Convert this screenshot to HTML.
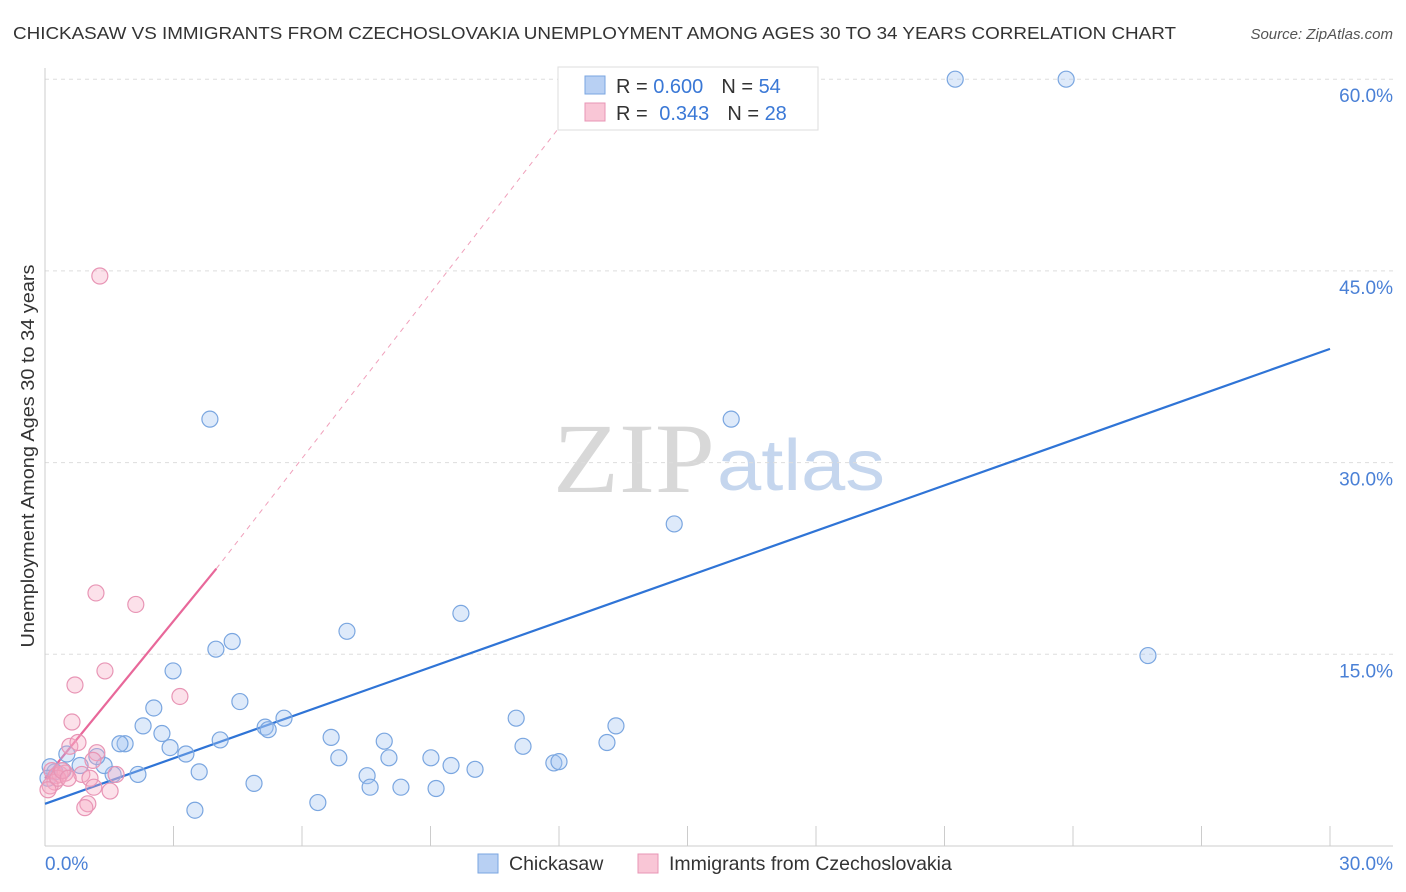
<!DOCTYPE html>
<html><head><meta charset="utf-8"><style>
body{margin:0;background:#fff;}
svg{display:block;font-family:"Liberation Sans",sans-serif;}
</style></head><body>
<svg id="chart" width="1406" height="892">
<text x="13" y="39" font-size="17.5" fill="#333" textLength="1163" lengthAdjust="spacingAndGlyphs">CHICKASAW VS IMMIGRANTS FROM CZECHOSLOVAKIA UNEMPLOYMENT AMONG AGES 30 TO 34 YEARS CORRELATION CHART</text>
<text x="1393" y="39" font-size="15" fill="#555" font-style="italic" text-anchor="end">Source: ZipAtlas.com</text>
<g>
<text x="553" y="492" font-size="100" fill="#d8d8d8" font-family="Liberation Serif,serif" textLength="162" lengthAdjust="spacingAndGlyphs">ZIP</text>
<text x="717" y="490" font-size="72" fill="#c5d6ee" textLength="168" lengthAdjust="spacingAndGlyphs">atlas</text>
</g>
<g id="grid"></g>
<g id="axes"></g>
<g id="lines"></g>
<g id="pts"></g>
<g>
<rect x="558" y="67" width="260" height="63" fill="#fff" stroke="#ddd"/>
<rect x="585" y="76" width="20" height="18" fill="#b8d0f3" stroke="#7aa6e0"/>
<rect x="585" y="103" width="20" height="18" fill="#f9c6d6" stroke="#e895b5"/>
<text x="616" y="93" font-size="20" fill="#333">R = <tspan fill="#3a78d6">0.600</tspan><tspan dx="18">N = </tspan><tspan fill="#3a78d6">54</tspan></text>
<text x="616" y="120" font-size="20" fill="#333">R = <tspan fill="#3a78d6" dx="6">0.343</tspan><tspan dx="18">N = </tspan><tspan fill="#3a78d6">28</tspan></text>
</g>
<g>
<rect x="478" y="854" width="20" height="19" fill="#b8d0f3" stroke="#7aa6e0"/>
<text x="509" y="870" font-size="19.5" fill="#333">Chickasaw</text>
<rect x="638" y="854" width="20" height="19" fill="#f9c6d6" stroke="#e895b5"/>
<text x="669" y="870" font-size="19.5" fill="#333">Immigrants from Czechoslovakia</text>
</g>
<text transform="translate(34,456) rotate(-90)" font-size="18" fill="#333" text-anchor="middle" textLength="383" lengthAdjust="spacingAndGlyphs">Unemployment Among Ages 30 to 34 years</text>
</svg>
<script>
const yTicks=[15,30,45,60];
const xTickCount=10;
const blueX=[3.85,21.25,23.84,16.02,14.69,25.75,9.71,7.05,3.99,4.37,2.99,4.55,2.54,2.29,2.73,1.87,1.75,2.92,3.29,4.09,5.14,5.21,5.58,6.68,6.86,7.92,8.03,7.52,7.59,8.31,9.01,9.13,9.48,10.04,11.0,11.16,11.88,12.0,13.12,13.33,6.37,4.88,3.5,3.6,2.17,1.59,1.38,1.21,0.82,0.51,0.42,0.23,0.12,0.07];
const blueY=[33.4,60.0,60.0,33.4,25.2,14.9,18.2,16.8,15.4,16.0,13.7,11.3,10.8,9.4,8.8,8.0,8.0,7.7,7.2,8.3,9.3,9.1,10.0,8.5,6.9,8.2,6.9,5.5,4.6,4.6,6.9,4.5,6.3,6.0,10.0,7.8,6.5,6.6,8.1,9.4,3.4,4.9,2.8,5.8,5.6,5.6,6.3,7.0,6.3,7.2,5.9,5.8,6.2,5.3];
const pinkX=[1.28,1.19,2.12,1.4,0.7,3.15,0.63,0.58,0.77,1.21,1.12,0.16,0.26,0.35,0.47,0.23,0.12,1.66,0.86,1.05,1.52,1.0,0.93,1.14,0.3,0.4,0.07,0.54];
const pinkY=[44.6,19.8,18.9,13.7,12.6,11.7,9.7,7.8,8.1,7.3,6.7,5.9,5.5,5.6,5.7,5.0,4.7,5.6,5.6,5.3,4.3,3.3,3.0,4.6,5.3,5.9,4.4,5.3];
const blueTrend=[[0,3.3],[30,38.9]];
const pinkTrend=[[0,5.3],[4.0,21.7]];
const pinkDash=[[4.0,21.7],[12.3,57.5]];
const NS="http://www.w3.org/2000/svg";
const X=v=>45+v*42.833, Y=v=>846-v*12.78;
function mk(t,a,p){const e=document.createElementNS(NS,t);for(const k in a)e.setAttribute(k,a[k]);p.appendChild(e);return e;}
const grid=document.getElementById('grid'),axes=document.getElementById('axes'),lines=document.getElementById('lines'),pts=document.getElementById('pts');
yTicks.forEach(t=>{
 const l=mk('line',{x1:45,x2:1393,y1:Y(t),y2:Y(t),stroke:'#ddd','stroke-dasharray':'4,4'},grid);
 
 
 const tx=mk('text',{x:1393,y:Y(t)+23,'font-size':19,fill:'#4a80d6','text-anchor':'end'},grid);
 tx.textContent=t.toFixed(1)+'%';
 
 
});
mk('line',{x1:45,x2:45,y1:68,y2:846,stroke:'#ccc'},axes);
mk('line',{x1:45,x2:1393,y1:846,y2:846,stroke:'#ccc'},axes);
for(let i=1;i<=xTickCount;i++){const x=X(i*3);mk('line',{x1:x,x2:x,y1:826,y2:846,stroke:'#ccc'},axes);}
const x0=mk('text',{x:45,y:870,'font-size':19,fill:'#4a80d6'},axes);x0.textContent='0.0%';


const x1=mk('text',{x:1393,y:870,'font-size':19,fill:'#4a80d6','text-anchor':'end'},axes);x1.textContent='30.0%';


function seg(p,st,dash,name){const l=mk('line',{x1:X(p[0][0]),y1:Y(p[0][1]),x2:X(p[1][0]),y2:Y(p[1][1]),stroke:st,'stroke-width':dash?1:2.2},lines);if(dash)l.setAttribute('stroke-dasharray','5,5');
 
 }
seg(pinkDash,'#f0a0bb',true,'czech-trend-extension');
seg(blueTrend,'#2f74d6',false,'chickasaw-trend-line');
seg(pinkTrend,'#e8689a',false,'czech-trend-line');
blueX.forEach((v,i)=>{const c=mk('circle',{cx:X(v),cy:Y(blueY[i]),r:8,fill:'rgba(160,195,240,0.35)',stroke:'#7aa6e0','stroke-width':1.2},pts);
 
 });
pinkX.forEach((v,i)=>{const c=mk('circle',{cx:X(v),cy:Y(pinkY[i]),r:8,fill:'rgba(245,170,195,0.35)',stroke:'#e895b5','stroke-width':1.2},pts);
 
 });
</script>
</body></html>
